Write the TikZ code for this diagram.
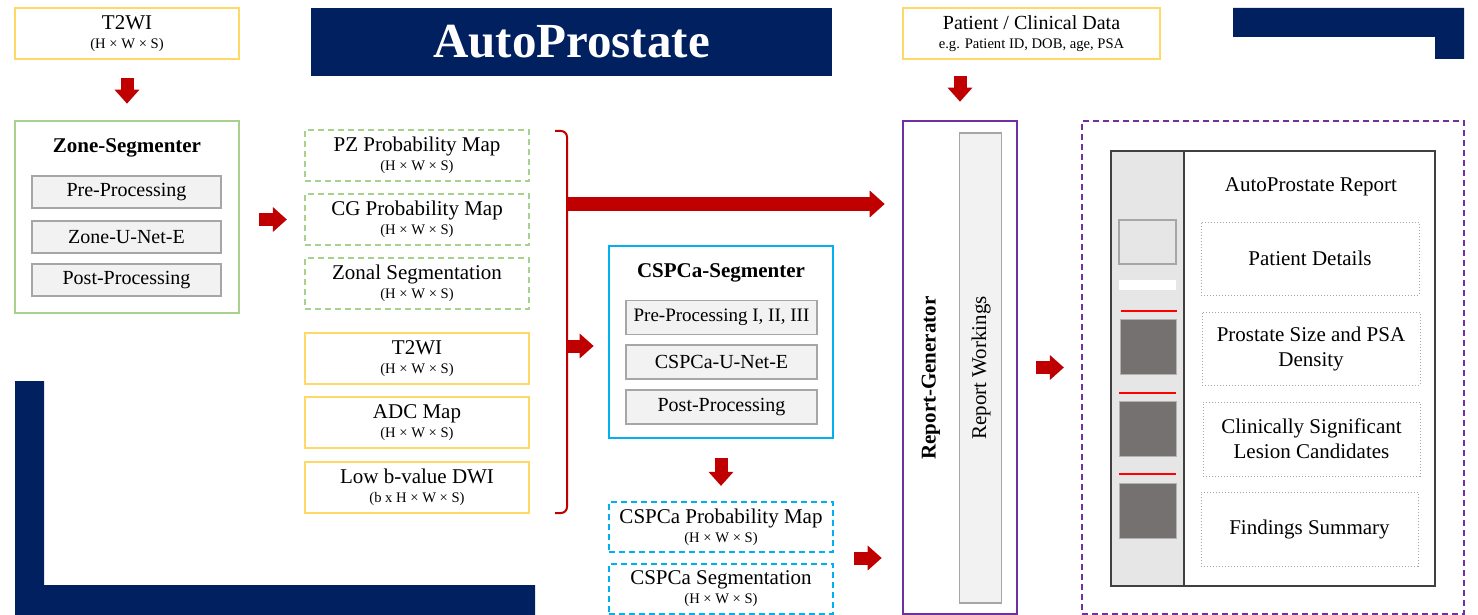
\documentclass[tikz,border=0pt]{standalone}
\usepackage{fontspec}
\setmainfont{Liberation Serif}
\usetikzlibrary{arrows.meta,calc}
\definecolor{navy}{RGB}{0,32,96}
\definecolor{ylw}{RGB}{255,217,102}
\definecolor{grn}{RGB}{169,209,142}
\definecolor{cyanb}{RGB}{0,176,240}
\definecolor{purp}{RGB}{112,48,160}
\definecolor{arrred}{RGB}{192,0,0}
\definecolor{lgray}{RGB}{242,242,242}
\definecolor{colgray}{RGB}{231,230,230}
\definecolor{dgray}{RGB}{118,113,113}
\definecolor{bordgray}{RGB}{166,166,166}
\definecolor{brightred}{RGB}{255,0,0}
\newcommand\smallfnt{\fontsize{7.3}{8.5}\selectfont}
\newcommand\mklabel[2]{#1\\[-3pt]{\smallfnt #2}}
\begin{document}
\begin{tikzpicture}[x=0.5pt,y=-0.5pt,
  lbl/.style={font=\fontsize{10.5}{12.5}\selectfont, align=center, inner sep=0pt},
  boldlbl/.style={font=\fontsize{10.5}{12.5}\selectfont\bfseries, inner sep=0pt},
  ybox/.style={lbl, draw=ylw, line width=1.3pt, fill=white, minimum width=112pt, minimum height=25.5pt},
  gdash/.style={lbl, draw=grn, line width=1.1pt, dash pattern=on 3pt off 2pt, minimum width=112pt, minimum height=25.5pt},
  bdash/.style={lbl, draw=cyanb, line width=1.1pt, dash pattern=on 3pt off 2pt, minimum width=112pt, minimum height=25pt},
  subbox/.style={lbl, font=\fontsize{10}{12}\selectfont, draw=bordgray, line width=0.6pt, fill=lgray},
  dotbox/.style={lbl, draw=gray!70, densely dotted, line width=0.5pt},
  blk/.style={draw=arrred, line width=6.5pt, -{Triangle[length=7pt,width=12pt]}},
]
\useasboundingbox (0,0) rectangle (1478,615);

% navy decorations
\fill[navy] (1233,8) -- (1464,8) -- (1464,59) -- (1435,59) -- (1435,37) -- (1233,37) -- cycle;
\fill[navy] (15,381) -- (44,381) -- (44,585) -- (535,585) -- (535,615) -- (15,615) -- cycle;

% title
\node[fill=navy, minimum width=260.5pt, minimum height=34pt, text=white,
      font=\fontsize{24.5}{28}\selectfont\bfseries, inner sep=0pt] (title) at (571.5,42) {AutoProstate};

% top-left input
\node[ybox] (t2top) at (127,33.5) {\mklabel{T2WI}{(H × W × S)}};

% Zone-Segmenter
\node[draw=grn, line width=1.3pt, minimum width=112pt, minimum height=96pt] (zone) at (127,217) {};
\node[boldlbl] (zonet) at (127,148) {Zone-Segmenter};
\node[subbox, minimum width=94.5pt, minimum height=16pt] (zpre) at (126.5,192) {Pre-Processing};
\node[subbox, minimum width=94.5pt, minimum height=16pt] (znet) at (126.5,237) {Zone-U-Net-E};
\node[subbox, minimum width=94.5pt, minimum height=16pt] (zpost) at (126.5,280) {Post-Processing};

% zone outputs
\node[gdash] (pz) at (417,155.5) {\mklabel{PZ Probability Map}{(H × W × S)}};
\node[gdash] (cg) at (417,219.5) {\mklabel{CG Probability Map}{(H × W × S)}};
\node[gdash] (zs) at (417,283.5) {\mklabel{Zonal Segmentation}{(H × W × S)}};

% image inputs
\node[ybox] (t2) at (417,358.5) {\mklabel{T2WI}{(H × W × S)}};
\node[ybox] (adc) at (417,422.5) {\mklabel{ADC Map}{(H × W × S)}};
\node[ybox] (dwi) at (417,487.5) {\mklabel{Low b-value DWI}{(b x H × W × S)}};

% CSPCa-Segmenter
\node[draw=cyanb, line width=1.3pt, minimum width=112pt, minimum height=96pt] (cspca) at (721,342) {};
\node[boldlbl] (cspcat) at (721,273) {CSPCa-Segmenter};
\node[subbox, font=\fontsize{9.5}{11}\selectfont, minimum width=95.5pt, minimum height=17pt] (cpre) at (721.5,317.5) {Pre-Processing I, II, III};
\node[subbox, minimum width=95.5pt, minimum height=17pt] (cnet) at (721.5,362) {CSPCa-U-Net-E};
\node[subbox, minimum width=95.5pt, minimum height=17pt] (cpost) at (721.5,407) {Post-Processing};

\node[bdash] (cprob) at (721,527) {\mklabel{CSPCa Probability Map}{(H × W × S)}};
\node[bdash] (cseg) at (721,589) {\mklabel{CSPCa Segmentation}{(H × W × S)}};

% patient data
\node[ybox, minimum width=128.5pt] (pat) at (1031.5,33.5) {\fontsize{10}{12}\selectfont\mklabel{Patient / Clinical Data}{e.g. Patient ID, DOB, age, PSA}};

% Report-Generator
\node[draw=purp, line width=1.3pt, minimum width=57pt, minimum height=246.5pt] (rg) at (960,367.5) {};
\node[subbox, minimum width=21pt, minimum height=235pt] (rw) at (980.5,368) {};
\node[boldlbl, rotate=90] (rgt) at (931,378) {Report-Generator};
\node[lbl, rotate=90] (rwt) at (981,368) {Report Workings};

% Report output
\node[draw=purp, line width=1.1pt, dash pattern=on 3pt off 2pt, minimum width=191pt, minimum height=246.5pt] (rep) at (1273,367.5) {};
\node[draw=black!75, line width=0.8pt, fill=white, minimum width=162pt, minimum height=217.5pt, inner sep=0pt] (page) at (1273,368.5) {};
\node[draw=black!75, line width=0.8pt, fill=colgray, minimum width=36.5pt, minimum height=217.5pt, inner sep=0pt] (col) at (1147.5,368.5) {};
\node[draw=bordgray, line width=0.6pt, fill=colgray, minimum width=28.5pt, minimum height=22pt, inner sep=0pt] (thumb) at (1147.5,242) {};
\node[fill=white, minimum width=28.5pt, minimum height=5pt, inner sep=0pt] (bar) at (1147.5,285) {};
\draw[brightred, line width=0.7pt] (1121,311) -- (1177,311);
\node[fill=dgray, draw=gray!60, line width=0.3pt, minimum width=28pt, minimum height=27.5pt, inner sep=0pt] (img1) at (1148.5,346.5) {};
\draw[brightred, line width=0.7pt] (1119,393) -- (1176,393);
\node[fill=dgray, draw=gray!60, line width=0.3pt, minimum width=28.5pt, minimum height=27.5pt, inner sep=0pt] (img2) at (1147.5,428.5) {};
\draw[brightred, line width=0.7pt] (1119,474) -- (1176,474);
\node[fill=dgray, draw=gray!60, line width=0.3pt, minimum width=28.5pt, minimum height=27.5pt, inner sep=0pt] (img3) at (1147.5,510.5) {};

\node[lbl] (rept) at (1311,187) {AutoProstate Report};
\node[dotbox, minimum width=109pt, minimum height=36.5pt] (pd) at (1310,258.5) {Patient Details};
\node[dotbox, minimum width=109pt, minimum height=36.5pt] (ps) at (1311,348.5) {Prostate Size and PSA\\Density};
\node[dotbox, minimum width=108.5pt, minimum height=37pt] (cs) at (1311.5,439) {Clinically Significant\\Lesion Candidates};
\node[dotbox, minimum width=108.5pt, minimum height=37pt] (fs) at (1309.5,529) {Findings Summary};

% brace
\draw[arrred, line width=1pt, rounded corners=3pt] (555,131) -- (567,131) -- (567,513) -- (555,513);
\coordinate (bra) at (567,204);
\coordinate (brb) at (567,346);

% arrows
\draw[blk, shorten <=9pt, shorten >=8pt] (t2top.south) -- (zone.north);
\draw[blk, shorten <=9.5pt, shorten >=8.5pt] (zone.east |- cg.west) -- (cg.west);
\draw[blk, line width=7pt, -{Triangle[length=7.5pt,width=13pt]}, shorten >=8.5pt] (bra) -- (bra -| rg.west);
\draw[blk, shorten >=7pt] (brb) -- (brb -| cspca.west);
\draw[blk, shorten <=9.5pt, shorten >=7.5pt] (cspca.south) -- (cprob.north);
\coordinate (cmid) at ($(cprob.south east)!0.5!(cseg.north east)$);
\draw[blk, shorten <=10pt, shorten >=10pt] (cmid) -- (cmid -| rg.west);
\draw[blk, shorten <=8pt, shorten >=9pt] (rg.north |- pat.south) -- (rg.north);
\draw[blk, shorten <=9pt, shorten >=8.5pt] (rg.east) -- (rep.west);
\end{tikzpicture}
\end{document}
